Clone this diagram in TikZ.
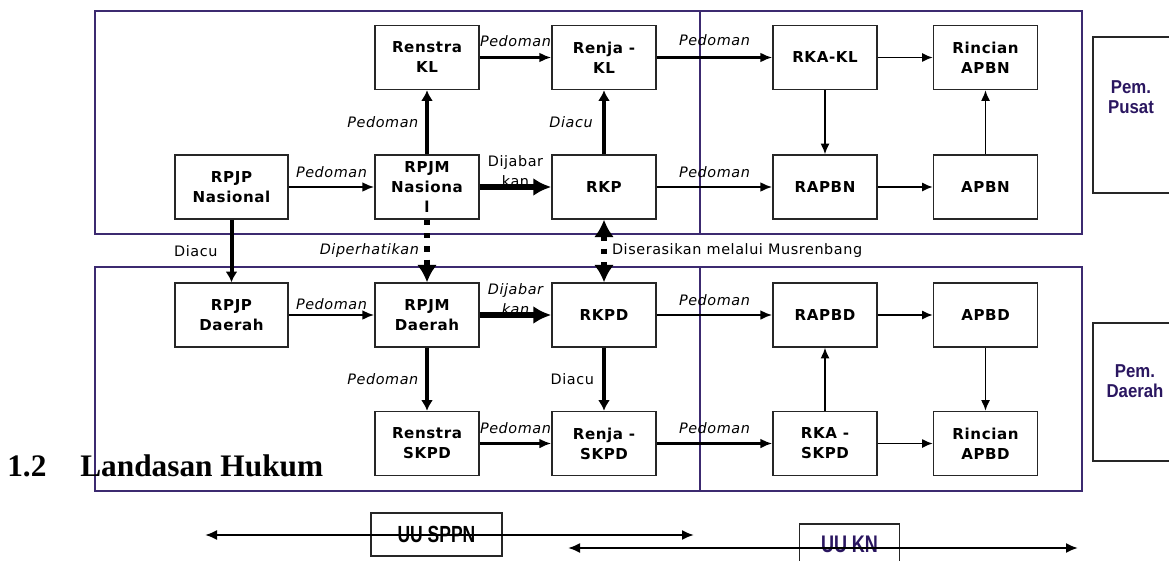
\documentclass[tikz,border=0pt]{standalone}
\usepackage{fontspec}
\setmainfont{DejaVu Sans}
\newfontfamily\boxfont[LetterSpace=4]{DejaVu Sans}
\newfontfamily\pemfont[FakeStretch=0.9]{Liberation Sans}
\newfontfamily\uufont[FakeStretch=0.75]{Liberation Sans}
\newfontfamily\headfont{Liberation Serif}
\usetikzlibrary{arrows.meta}

\definecolor{framepurple}{HTML}{3C2A70}
\definecolor{pemtext}{HTML}{2A1660}

\begin{document}
\begin{tikzpicture}[x=0.75pt, y=-0.75pt,
    planbox/.style={draw=black!85, line width=1.1pt, fill=white, minimum width=78pt,
      minimum height=48pt, align=center, inner sep=1pt,
      font=\boxfont\bfseries\fontsize{11.3}{15}\selectfont},
    widebox/.style={planbox, minimum width=84.75pt},
    lbl/.style={font=\boxfont\itshape\fontsize{10.8}{12}\selectfont, inner sep=2pt},
    lblup/.style={font=\boxfont\fontsize{10.8}{12}\selectfont, inner sep=2pt},
    thinarrow/.style={line width=1.1pt, -{Latex[length=8pt,width=6.75pt]}},
    pedarrow/.style={line width=2.2pt, -{Latex[length=9pt,width=7.5pt]}},
    thickarrow/.style={line width=3pt, -{Latex[length=8pt,width=9pt]}},
    heavyarrow/.style={line width=4.5pt, -{Latex[length=13.5pt,width=13.5pt]}},
    dotarrow/.style={line width=4pt, dash pattern=on 4pt off 6pt, -{Latex[length=13pt,width=15pt]}},
    lawarrow/.style={line width=1.5pt, {Latex[length=9pt,width=7.5pt]}-{Latex[length=9pt,width=7.5pt]}}
  ]
  \useasboundingbox (0,0) rectangle (1169,560);

  % Frames
  \draw[framepurple, line width=1pt] (95,11) rectangle (1082,234);
  \draw[framepurple, line width=1pt] (95,267) rectangle (1082,491);
  \draw[framepurple, line width=1pt] (700,11) -- (700,234);
  \draw[framepurple, line width=2pt] (700,267) -- (700,491);

  % Pusat
  \node[planbox] (renstrakl) at (427,57.5) {Renstra\\KL};
  \node[planbox] (renjakl) at (604,57.5) {Renja -\\KL};
  \node[planbox] (rkakl) at (825,57.5) {RKA-KL};
  \node[planbox] (rincianapbn) at (985.5,57.5) {Rincian\\APBN};
  \node[widebox] (rpjpnas) at (231.5,187) {RPJP\\Nasional};
  \node[planbox] (rpjmnas) at (427,187) {RPJM\\Nasiona\\l};
  \node[planbox] (rkp) at (604,187) {RKP};
  \node[planbox] (rapbn) at (825,187) {RAPBN};
  \node[planbox] (apbn) at (985.5,187) {APBN};

  % Daerah
  \node[widebox] (rpjpdae) at (231.5,315) {RPJP\\Daerah};
  \node[planbox] (rpjmdae) at (427,315) {RPJM\\Daerah};
  \node[planbox] (rkpd) at (604,315) {RKPD};
  \node[planbox] (rapbd) at (825,315) {RAPBD};
  \node[planbox] (apbd) at (985.5,315) {APBD};
  \node[planbox] (renstraskpd) at (427,443.5) {Renstra\\SKPD};
  \node[planbox] (renjaskpd) at (604,443.5) {Renja -\\SKPD};
  \node[planbox] (rkaskpd) at (825,443.5) {RKA -\\SKPD};
  \node[planbox] (rincianapbd) at (985.5,443.5) {Rincian\\APBD};

  % Side boxes
  \draw[black!85, line width=1.1pt] (1093,37) rectangle (1185,193);
  \draw[black!85, line width=1.1pt] (1093,323) rectangle (1185,461);
  \node[text=pemtext, align=center, font=\pemfont\bfseries\fontsize{14}{14.6}\selectfont]
    (pempusat) at (1131,97) {Pem.\\Pusat};
  \node[text=pemtext, align=center, font=\pemfont\bfseries\fontsize{14}{14.6}\selectfont]
    (pemdaerah) at (1135,381) {Pem.\\Daerah};

  % Arrows pusat
  \draw[pedarrow] (rpjpnas) -- (rpjmnas) node[lbl, midway, above, yshift=4pt] {Pedoman};
  \draw[heavyarrow] (rpjmnas) -- (rkp) node[lblup, midway, align=center, yshift=12pt,
    font=\boxfont\fontsize{10.8}{15}\selectfont] {Dijabar\\kan};
  \draw[thickarrow] (rpjmnas) -- (renstrakl) node[lbl, midway, left, xshift=-3pt] {Pedoman};
  \draw[pedarrow] (renstrakl) -- (renjakl) node[lbl, midway, above, yshift=5pt] {Pedoman};
  \draw[thickarrow] (rkp) -- (renjakl) node[lbl, midway, left, xshift=-5pt] {Diacu};
  \draw[pedarrow] (renjakl) -- (rkakl) node[lbl, midway, above, yshift=6pt] {Pedoman};
  \draw[pedarrow] (rkp) -- (rapbn) node[lbl, midway, above, yshift=4pt] {Pedoman};
  \draw[thinarrow] (rkakl) -- (rincianapbn);
  \draw[thinarrow] (rkakl) -- (rapbn);
  \draw[thinarrow] (rapbn) -- (apbn);
  \draw[thinarrow] (apbn) -- (rincianapbn);

  % Between the frames
  \draw[thickarrow] (rpjpnas) -- (rpjpdae) node[lblup, midway, left, xshift=-7pt] {Diacu};
  \draw[dotarrow] (rpjmnas) -- (rpjmdae) node[lbl, midway, left, xshift=-2pt] {Diperhatikan};
  \draw[dotarrow, {Latex[length=13pt,width=15pt]}-{Latex[length=13pt,width=15pt]}] (rkp) -- (rkpd)
    node[lblup, midway, right, xshift=2pt] {Diserasikan melalui Musrenbang};

  % Arrows daerah
  \draw[pedarrow] (rpjpdae) -- (rpjmdae) node[lbl, midway, above, yshift=1pt] {Pedoman};
  \draw[heavyarrow] (rpjmdae) -- (rkpd) node[lbl, midway, align=center, yshift=12pt,
    font=\boxfont\itshape\fontsize{10.8}{15}\selectfont] {Dijabar\\kan};
  \draw[thickarrow] (rpjmdae) -- (renstraskpd) node[lbl, midway, left, xshift=-3pt] {Pedoman};
  \draw[thickarrow] (rkpd) -- (renjaskpd) node[lblup, midway, left, xshift=-4pt] {Diacu};
  \draw[pedarrow] (rkpd) -- (rapbd) node[lbl, midway, above, yshift=4pt] {Pedoman};
  \draw[pedarrow] (renstraskpd) -- (renjaskpd) node[lbl, midway, above, yshift=4pt] {Pedoman};
  \draw[pedarrow] (renjaskpd) -- (rkaskpd) node[lbl, midway, above, yshift=4pt] {Pedoman};
  \draw[thinarrow] (rapbd) -- (apbd);
  \draw[thinarrow] (rkaskpd) -- (rapbd);
  \draw[thinarrow] (apbd) -- (rincianapbd);
  \draw[thinarrow] (rkaskpd) -- (rincianapbd);

  % Heading
  \node[anchor=base west, inner sep=0pt, font=\headfont\bfseries\fontsize{23.5}{26}\selectfont]
    (secnum) at (7,476) {1.2};
  \node[anchor=base west, inner sep=0pt, font=\headfont\bfseries\fontsize{23.5}{26}\selectfont]
    (sectitle) at (80,476) {Landasan Hukum};

  % Laws
  \node[draw=black!85, line width=1.1pt, minimum width=98pt, minimum height=32pt,
    font=\uufont\bfseries\fontsize{17.5}{18}\selectfont] (uusppn) at (436.5,534.5) {UU SPPN};
  \node[draw=black!85, line width=1.1pt, minimum width=75pt, minimum height=36pt, text=pemtext,
    font=\uufont\bfseries\fontsize{18}{18}\selectfont, text depth=6pt] (uukn) at (849.5,548) {UU KN};
  \coordinate (sppnleft) at (205,535);
  \coordinate (sppnright) at (694,535);
  \coordinate (knleft) at (568,548);
  \coordinate (knright) at (1078,548);
  \draw[lawarrow] (sppnleft) -- (sppnright);
  \draw[lawarrow] (knleft) -- (knright);

\end{tikzpicture}
\end{document}
